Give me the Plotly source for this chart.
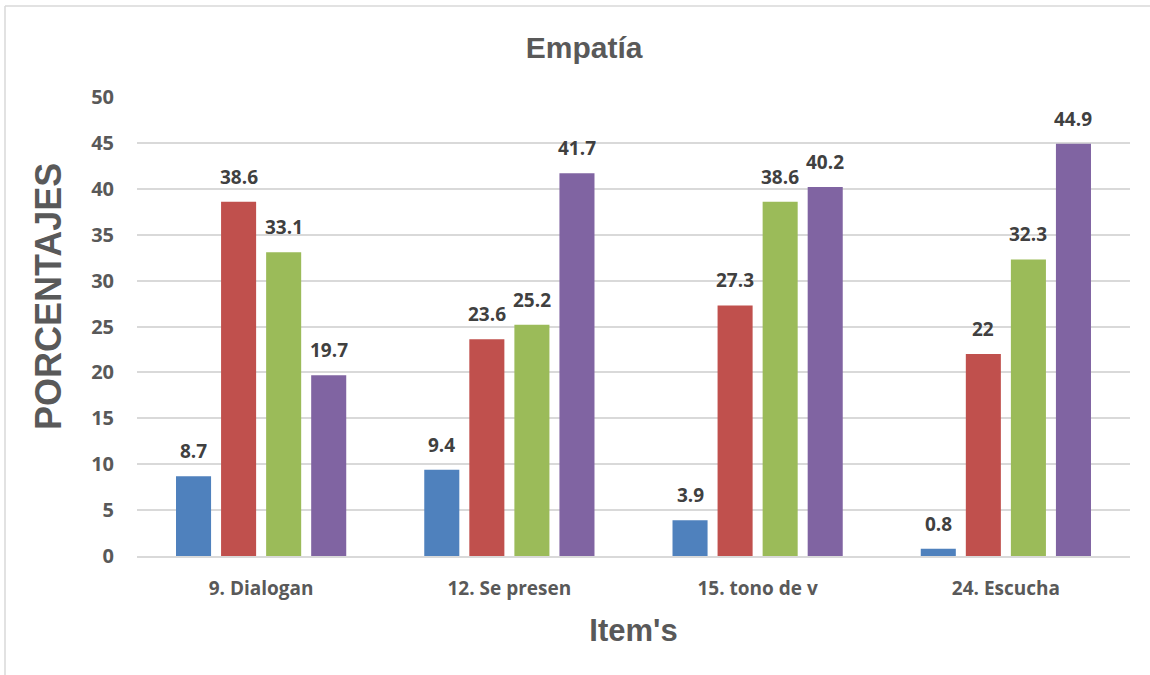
import plotly.graph_objects as go

categories = ["9. Dialogan", "12. Se presen", "15. tono de v", "24. Escucha"]
series_names = ["Serie 1", "Serie 2", "Serie 3", "Serie 4"]
s1 = [8.7, 9.4, 3.9, 0.8]
s2 = [38.6, 23.6, 27.3, 22]
s3 = [33.1, 25.2, 38.6, 32.3]
s4 = [19.7, 41.7, 40.2, 44.9]
colors = ["#4F81BD", "#C0504D", "#9BBB59", "#8064A2"]
yticks = [0, 5, 10, 15, 20, 25, 30, 35, 40, 45, 50]

FONT = "Open Sans"
TFONT = "Liberation Sans"
GRAY = "#595959"

fig = go.Figure()
all_series = [s1, s2, s3, s4]
for name, vals, c in zip(series_names, all_series, colors):
    fig.add_trace(go.Bar(
        x=categories, y=vals, name=name, marker=dict(color=c, line=dict(width=0)),
    ))

# data labels as annotations, shifted to each bar in the group
pitch = 45
for i, vals in enumerate(all_series):
    dx = (i - 1.5) * pitch
    for cat, v in zip(categories, vals):
        fig.add_annotation(x=cat, y=v, xref="x", yref="y", text=f"<b>{v:g}</b>",
                           showarrow=False, xshift=dx, yanchor="bottom", yshift=10,
                           font=dict(family=FONT, size=19, color="#404040"))

# y-axis title (placed like the original, slightly above plot centre)
fig.add_annotation(text="<b>PORCENTAJES</b>", xref="paper", yref="paper",
                   x=(48 - 137) / 993, y=(556 - 297) / 459, xanchor="center", yanchor="middle",
                   textangle=-90, showarrow=False,
                   font=dict(family=TFONT, size=36, color=GRAY))

fig.update_layout(
    width=1150, height=675,
    margin=dict(l=137, r=20, t=97, b=119),
    paper_bgcolor="white", plot_bgcolor="white",
    showlegend=False,
    barmode="group", bargap=0.274, bargroupgap=0.222,
    title=dict(text="<b>Empatía</b>", x=0.508, xanchor="center", y=0.93, yanchor="middle",
               font=dict(family=TFONT, size=30, color=GRAY)),
    font=dict(family=FONT, color=GRAY),
)
fig.update_yaxes(
    range=[0, 50], tickvals=yticks, ticktext=[f"<b>{t}</b>" for t in yticks],
    showgrid=True, gridcolor="#D9D9D9", gridwidth=1.5, zeroline=False,
    showline=False, ticks="", ticklabelstandoff=22,
    tickfont=dict(family=FONT, size=20, color=GRAY),
)
fig.update_xaxes(
    showline=True, linecolor="#D9D9D9", linewidth=1.5, ticks="", ticklabelstandoff=14,
    tickvals=categories, ticktext=[f"<b>{c}</b>" for c in categories],
    tickfont=dict(family=FONT, size=19, color=GRAY),
    title=dict(text="<b>Item's</b>", standoff=20, font=dict(family=TFONT, size=31, color=GRAY)),
)

# chart frame (left and top edges visible)
fig.add_shape(type="line", xref="paper", yref="paper",
              x0=(5 - 137) / 993, x1=(5 - 137) / 993, y0=(556 - 680) / 459, y1=(556 - 6) / 459,
              line=dict(color="#D9D9D9", width=1.5))
fig.add_shape(type="line", xref="paper", yref="paper",
              x0=(5 - 137) / 993, x1=(1160 - 137) / 993, y0=(556 - 6) / 459, y1=(556 - 6) / 459,
              line=dict(color="#D9D9D9", width=1.5))

fig.write_html("out.html")
